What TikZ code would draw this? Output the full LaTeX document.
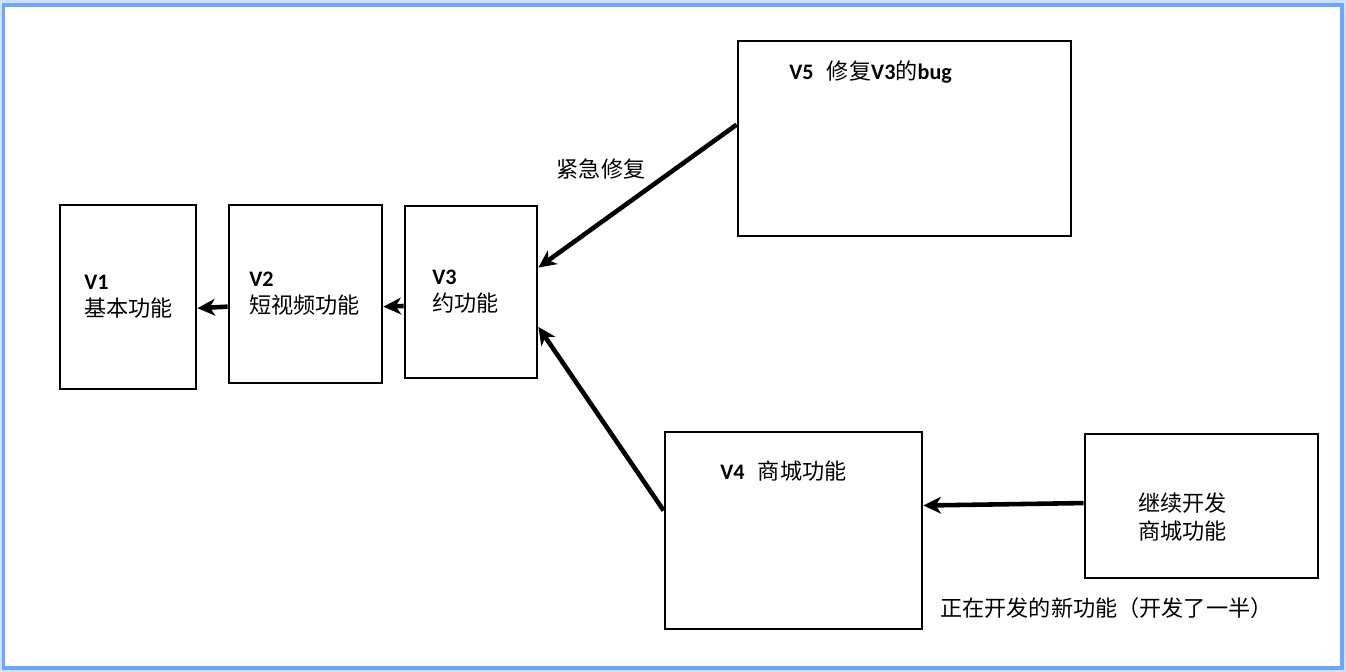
\documentclass[tikz,border=0pt]{standalone}
\usepackage{fontspec}
\setmainfont{Noto Sans CJK SC}
\newfontfamily\verfont{Carlito}
\usetikzlibrary{arrows.meta,calc}

\definecolor{framecol}{RGB}{110,165,250}
\definecolor{haze}{RGB}{205,225,255}

\tikzset{
  box/.style={draw, line width=1.6pt, inner sep=0pt},
  link/.style={line width=2.6pt, -{Stealth[length=10pt,width=9.5pt,inset=3pt]}},
  lbl/.style={inner sep=0pt, anchor=west, align=left, font=\fontsize{12.6}{15.5}\selectfont},
}
\newcommand{\ver}[1]{{\verfont\bfseries #1}}

\begin{document}
\begin{tikzpicture}[x=0.02cm, y=-0.02cm]
        \useasboundingbox (0,0) rectangle (1346,672);
        % frame
        \fill[haze] (0,0) rectangle (1346,672);
        \draw[framecol, line width=1.8pt, fill=white] (3.5,5) rectangle (1342,668);

        % versions
        \node[box, minimum width=2.72cm, minimum height=3.68cm] (v1) at (128,297) {};
        \node[box, minimum width=3.06cm, minimum height=3.56cm] (v2) at (305.5,294) {};
        \node[box, minimum width=2.64cm, minimum height=3.44cm] (v3) at (471,292) {};
        \node[box, minimum width=6.66cm, minimum height=3.90cm] (v5) at (904.5,138.5) {};
        \node[box, minimum width=5.14cm, minimum height=3.94cm] (v4) at (793.5,530.5) {};
        \node[box, minimum width=4.66cm, minimum height=2.88cm] (dev) at (1201.5,506) {};

        \node[lbl] (v1t) at (84,297) {\ver{V1}\\基本功能};
        \node[lbl] (v2t) at (249,294) {\ver{V2}\\短视频功能};
        \node[lbl] (v3t) at (432,292) {\ver{V3}\\约功能};
        \node[lbl] (v5t) at (789,72) {\ver{V5}\hspace{0.6em}修复\ver{V3}的\ver{bug}};
        \node[lbl] (v4t) at (720,471) {\ver{V4}\hspace{0.6em}商城功能};
        \node[lbl] (devt) at (1138,517) {继续开发\\商城功能};
        \node[lbl, anchor=center] (fix) at (601,169) {紧急修复};
        \node[lbl] (note) at (940,608) {正在开发的新功能（开发了一半）};

        % arrows
        \draw[link] ($(v2.north west)!0.57!(v2.south west)$) -- ($(v1.north east)!0.56!(v1.south east)$);
        \draw[link] ($(v3.north west)!0.58!(v3.south west)$) -- ($(v2.north east)!0.57!(v2.south east)$);
        \draw[link] ($(v5.north west)!0.43!(v5.south west)$) -- ($(v3.north east)!0.36!(v3.south east)$);
        \draw[link] ($(v4.north west)!0.40!(v4.south west)$) -- ($(v3.north east)!0.70!(v3.south east)$);
        \draw[link] ($(dev.north west)!0.48!(dev.south west)$) -- ($(v4.north east)!0.375!(v4.south east)$);
\end{tikzpicture}
\end{document}
